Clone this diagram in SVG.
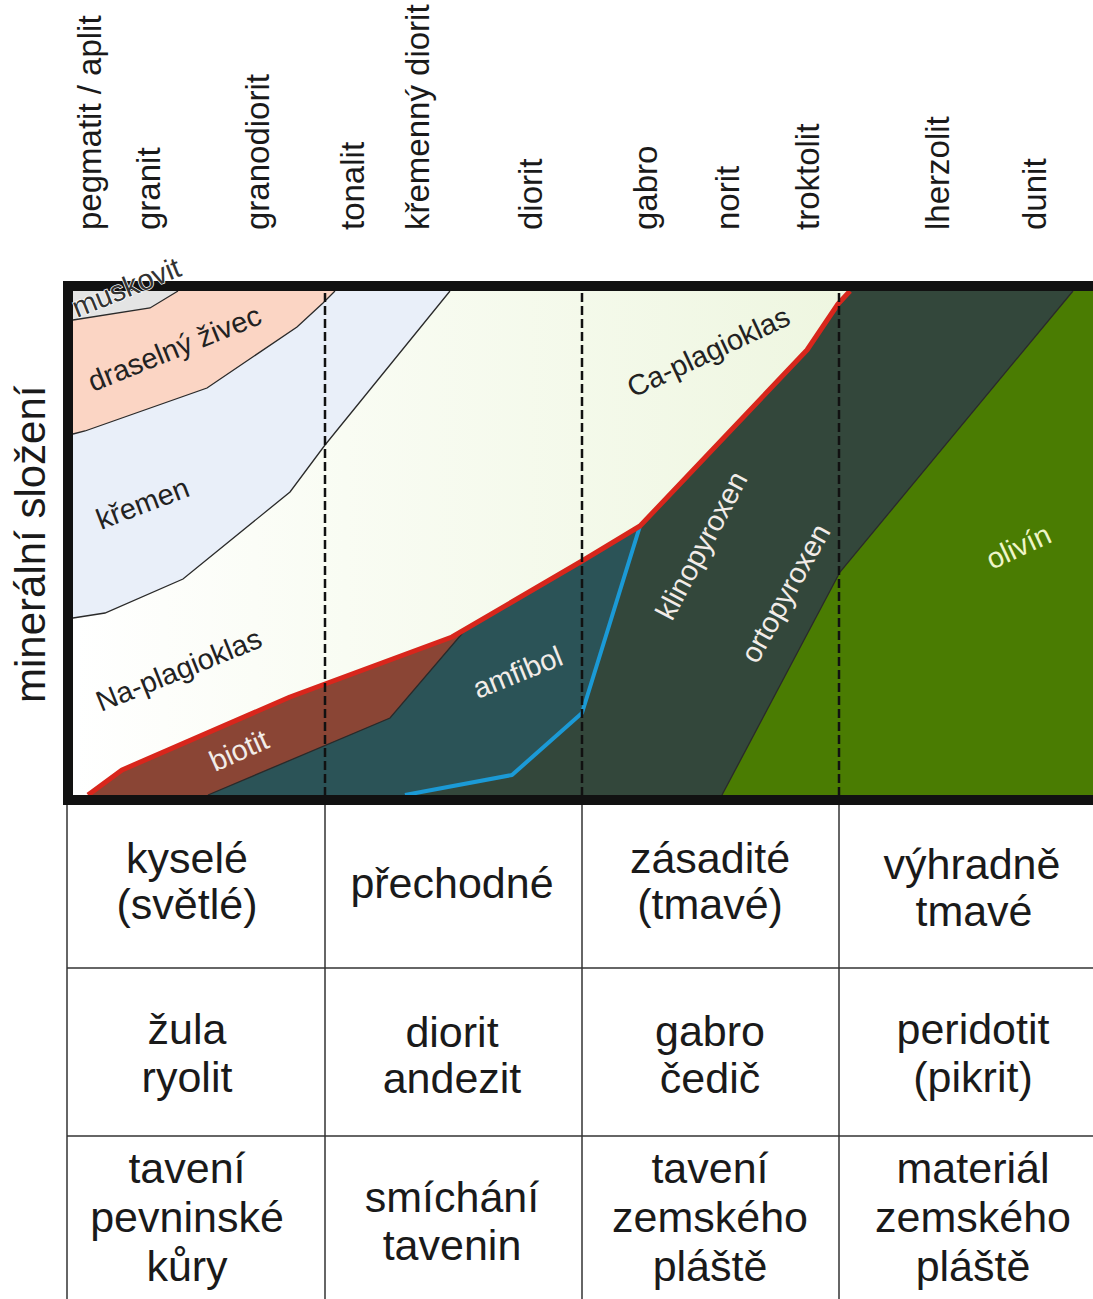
<svg xmlns="http://www.w3.org/2000/svg" width="1093" height="1299" viewBox="0 0 1093 1299">
<defs>
<linearGradient id="plagGrad" gradientUnits="userSpaceOnUse" x1="73" y1="0" x2="850" y2="0">
<stop offset="0" stop-color="#ffffff"/>
<stop offset="0.35" stop-color="#f9fcf3"/>
<stop offset="1" stop-color="#eef6e0"/>
</linearGradient>
<style>
.top{font-family:"Liberation Sans",Arial,sans-serif;font-size:33px;fill:#1a1a1a}
.tbl{font-family:"Liberation Sans",Arial,sans-serif;font-size:43px;fill:#1a1a1a;text-anchor:middle}
.lbl{font-family:"Liberation Sans",Arial,sans-serif;font-size:29px}
.dark{fill:#222}
.light{fill:#f2ece8}
.bnd{fill:none;stroke:#2a2a2a;stroke-width:1.3}
.dash{stroke:#111;stroke-width:2.5;stroke-dasharray:9 4}
.grid{stroke:#333;stroke-width:1.5}
</style>
</defs>
<rect x="0" y="0" width="1093" height="1299" fill="#ffffff"/>

<g id="top-labels">
<text class="top" transform="translate(101,230) rotate(-90)">pegmatit / aplit</text>
<text class="top" transform="translate(160,230) rotate(-90)">granit</text>
<text class="top" transform="translate(269,230) rotate(-90)">granodiorit</text>
<text class="top" transform="translate(364,230) rotate(-90)">tonalit</text>
<text class="top" transform="translate(429,230) rotate(-90)">křemenný diorit</text>
<text class="top" transform="translate(542,230) rotate(-90)">diorit</text>
<text class="top" transform="translate(657,230) rotate(-90)">gabro</text>
<text class="top" transform="translate(739,230) rotate(-90)">norit</text>
<text class="top" transform="translate(819,230) rotate(-90)">troktolit</text>
<text class="top" transform="translate(949,230) rotate(-90)">lherzolit</text>
<text class="top" transform="translate(1046,230) rotate(-90)">dunit</text>
</g>

<g id="axis-label">
<text class="top" style="font-size:42px" transform="translate(45,703) rotate(-90)">minerální složení</text>
</g>

<g id="regions">
<rect id="pyroxen" x="73" y="291" width="1020" height="504" fill="#33473b"/>
<polygon id="plagioklas" fill="url(#plagGrad)" points="73,291 850,291 838,304 807,350 640,526 582,561 452,637 325,684 290,697 122,770 88,795 73,795"/>
<polygon id="kremen" fill="#e9eff9" points="73,291 450,291 325,445 290,492 183,579 105,613 73,618"/>
<polygon id="draselny-zivec" fill="#fbd5c4" points="73,291 335,291 323,303 297,327 207,388 85,431 73,434"/>
<polygon id="muskovit" fill="#e4e4e4" points="73,291 178,291 150,308 73,320"/>
<polygon id="biotit" fill="#8a4535" points="88,795 122,770 290,697 325,684 452,637 466,629 390,718 208,795"/>
<polygon id="amfibol" fill="#2b5357" points="208,795 390,718 466,629 582,561 640,526 582,713 512,775 405,795"/>
<polygon id="olivin" fill="#4a7c02" points="1073,291 1093,291 1093,795 722,795 840,572"/>
</g>

<g id="connectors">
<polyline class="bnd" points="450,291 325,445 290,492 183,579 105,613 73,618"/>
<polyline class="bnd" points="335,291 323,303 297,327 207,388 85,431 73,434"/>
<polyline class="bnd" points="178,291 150,308 73,320"/>
<polyline class="bnd" points="208,795 390,718 466,629"/>
<polyline class="bnd" points="1073,291 840,572 722,795"/>
<polyline fill="none" stroke="#1b9ad6" stroke-width="4" stroke-linejoin="round" points="405,795 512,775 582,713 640,526"/>
<polyline fill="none" stroke="#d8261c" stroke-width="5" stroke-linejoin="round" points="88,795 122,770 290,697 325,684 452,637 582,561 640,526 807,350 838,304 850,291"/>
<line class="dash" x1="325" y1="293" x2="325" y2="795"/>
<line class="dash" x1="582" y1="293" x2="582" y2="795"/>
<line class="dash" x1="839" y1="293" x2="839" y2="795"/>
</g>

<g id="frame">
<rect x="68" y="286" width="1030" height="514" fill="none" stroke="#111" stroke-width="10"/>
</g>

<g id="chart-labels">
<text class="lbl" style="fill:#333;stroke:#ffffff;stroke-width:1.5;paint-order:stroke" transform="translate(77,318) rotate(-22)">muskovit</text>
<text class="lbl dark" transform="translate(93,392) rotate(-22)">draselný živec</text>
<text class="lbl dark" transform="translate(101,530) rotate(-21)">křemen</text>
<text class="lbl dark" transform="translate(101,712) rotate(-22)">Na-plagioklas</text>
<text class="lbl light" transform="translate(215,772) rotate(-24)">biotit</text>
<text class="lbl light" transform="translate(478,699) rotate(-22)">amfibol</text>
<text class="lbl dark" transform="translate(633,398) rotate(-25)">Ca-plagioklas</text>
<text class="lbl light" transform="translate(672,622) rotate(-62)">klinopyroxen</text>
<text class="lbl light" transform="translate(757,665) rotate(-61)">ortopyroxen</text>
<text class="lbl" style="fill:#eef5c8" transform="translate(992,570) rotate(-25)">olivín</text>
</g>

<g id="table">
<line class="grid" x1="67" y1="805" x2="67" y2="1299"/>
<line class="grid" x1="325" y1="805" x2="325" y2="1299"/>
<line class="grid" x1="582" y1="805" x2="582" y2="1299"/>
<line class="grid" x1="839" y1="805" x2="839" y2="1299"/>
<line class="grid" x1="67" y1="968" x2="1093" y2="968"/>
<line class="grid" x1="67" y1="1136" x2="1093" y2="1136"/>

<text class="tbl" x="187" y="873">kyselé</text>
<text class="tbl" x="187" y="919">(světlé)</text>
<text class="tbl" x="452" y="898">přechodné</text>
<text class="tbl" x="710" y="873">zásadité</text>
<text class="tbl" x="710" y="919">(tmavé)</text>
<text class="tbl" x="972" y="879">výhradně</text>
<text class="tbl" x="974" y="926">tmavé</text>

<text class="tbl" x="187" y="1044">žula</text>
<text class="tbl" x="187" y="1092">ryolit</text>
<text class="tbl" x="452" y="1047">diorit</text>
<text class="tbl" x="452" y="1093">andezit</text>
<text class="tbl" x="710" y="1046">gabro</text>
<text class="tbl" x="710" y="1093">čedič</text>
<text class="tbl" x="973" y="1044">peridotit</text>
<text class="tbl" x="973" y="1092">(pikrit)</text>

<text class="tbl" x="187" y="1183">tavení</text>
<text class="tbl" x="187" y="1232">pevninské</text>
<text class="tbl" x="187" y="1281">kůry</text>
<text class="tbl" x="452" y="1212">smíchání</text>
<text class="tbl" x="452" y="1260">tavenin</text>
<text class="tbl" x="710" y="1183">tavení</text>
<text class="tbl" x="710" y="1232">zemského</text>
<text class="tbl" x="710" y="1281">pláště</text>
<text class="tbl" x="973" y="1183">materiál</text>
<text class="tbl" x="973" y="1232">zemského</text>
<text class="tbl" x="973" y="1281">pláště</text>
</g>
</svg>
